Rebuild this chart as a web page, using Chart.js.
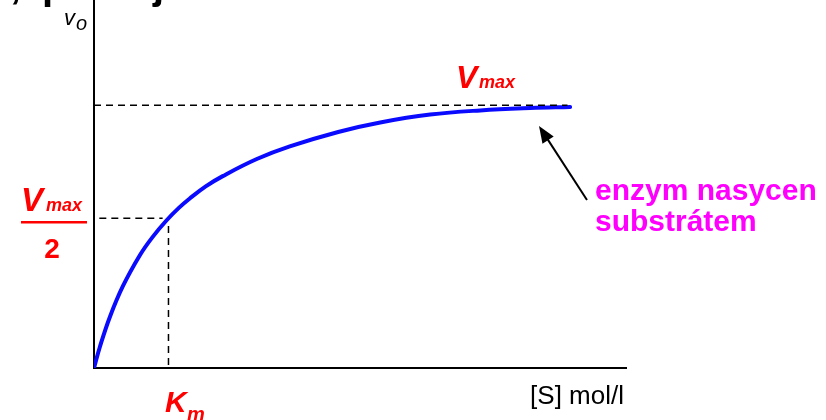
<!DOCTYPE html>
<html>
<head>
<meta charset="utf-8">
<script src="https://cdn.jsdelivr.net/npm/chart.js@4"></script>
<style>
html,body{margin:0;padding:0;background:#fff;}
#wrap{width:826px;height:420px;position:relative;}
</style>
</head>
<body>
<div id="wrap"><canvas id="c" width="826" height="420"></canvas></div>
<script>
// substrate concentration [S] and reaction velocity v0 (Vmax = 1)
const substrate = [0, 0.11, 0.30, 0.545, 0.865, 1.10, 1.37, 1.60, 1.80, 2.10, 2.42, 3.06, 3.68, 4.59, 5.38, 6.32, 7.26, 8.20, 8.95];
const velocity  = [0, 0.08, 0.195, 0.312, 0.430, 0.498, 0.563, 0.610, 0.645, 0.691, 0.730, 0.795, 0.843, 0.898, 0.934, 0.964, 0.980, 0.989, 0.993];
const vmax = 1.0;
const halfV = 0.57;
const km = 1.37;
const xMax = 10;
const yMax = 1.4;

const curve = substrate.map((x, i) => ({x: x, y: velocity[i]}));
const vmaxLine = [{x: 0, y: vmax}, {x: 8.9, y: vmax}];
const halfLine = [{x: 0.1, y: halfV}, {x: km - 0.08, y: halfV}];
const kmLine = [{x: km + 0.03, y: 0.54}, {x: km + 0.03, y: 0.01}];

const dashStyle = {borderColor: '#000', borderWidth: 1.5, borderDash: [7, 5], pointRadius: 0, fill: false, tension: 0};

const overlay = {
  id: 'overlay',
  afterDatasetsDraw(chart) {
    const ctx = chart.ctx;
    const xs = chart.scales.x, ys = chart.scales.y;
    ctx.save();
    // cropped title fragments at the very top
    ctx.fillStyle = '#000';
    ctx.font = 'bold 40px "Liberation Sans", Arial, sans-serif';
    ctx.textBaseline = 'alphabetic';
    ctx.textAlign = 'left';
    ctx.fillText(',', 10, -2);
    ctx.fillText('p', 42, -1);
    ctx.fillText('j', 153, -1);

    // v_o label
    ctx.font = 'italic 22px "Liberation Sans", Arial, sans-serif';
    ctx.fillText('v', 64, 25);
    ctx.font = 'italic 20px "Liberation Sans", Arial, sans-serif';
    ctx.fillText('o', 76, 30);

    // Vmax label
    const red = '#ff0000';
    ctx.fillStyle = red;
    const vx = 456, vy = ys.getPixelForValue(vmax) - 17;
    ctx.font = 'bold italic 32px "Liberation Sans", Arial, sans-serif';
    ctx.fillText('V', vx, vy);
    ctx.font = 'bold italic 18px "Liberation Sans", Arial, sans-serif';
    ctx.fillText('max', vx + 23, vy);

    // Vmax / 2 label
    ctx.font = 'bold italic 33px "Liberation Sans", Arial, sans-serif';
    ctx.fillText('V', 21, 211);
    ctx.font = 'bold italic 18px "Liberation Sans", Arial, sans-serif';
    ctx.fillText('max', 46, 211);
    ctx.fillRect(21, 221, 66, 2.5);
    ctx.font = 'bold 28px "Liberation Sans", Arial, sans-serif';
    ctx.textAlign = 'center';
    ctx.fillText('2', 52, 258);
    ctx.textAlign = 'left';

    // Km label
    const kx = xs.getPixelForValue(km) - 2;
    ctx.font = 'bold italic 30px "Liberation Sans", Arial, sans-serif';
    ctx.fillText('K', kx, 412);
    ctx.font = 'bold italic 20px "Liberation Sans", Arial, sans-serif';
    ctx.fillText('m', kx + 22, 421);

    // x-axis label
    ctx.fillStyle = '#000';
    ctx.font = '26px "Liberation Sans", Arial, sans-serif';
    ctx.textAlign = 'right';
    ctx.fillText('[S] mol/l', 624, 404);
    ctx.textAlign = 'left';

    // annotation text
    ctx.fillStyle = '#ff00ff';
    ctx.font = 'bold 30px "Liberation Sans", Arial, sans-serif';
    ctx.fillText('enzym nasycen', 595, 200);
    ctx.fillText('substrátem', 595, 231);

    // arrow
    const tx = 587, ty = 200, hx = 539, hy = 126;
    ctx.strokeStyle = '#000';
    ctx.lineWidth = 2;
    const ang = Math.atan2(hy - ty, hx - tx);
    ctx.beginPath();
    ctx.moveTo(tx, ty);
    ctx.lineTo(hx - 10 * Math.cos(ang), hy - 10 * Math.sin(ang));
    ctx.stroke();
    ctx.fillStyle = '#000';
    ctx.beginPath();
    ctx.moveTo(hx, hy);
    ctx.lineTo(hx - 18 * Math.cos(ang - 0.38), hy - 18 * Math.sin(ang - 0.38));
    ctx.lineTo(hx - 18 * Math.cos(ang + 0.38), hy - 18 * Math.sin(ang + 0.38));
    ctx.closePath();
    ctx.fill();
    ctx.restore();
  }
};

new Chart(document.getElementById('c'), {
  type: 'line',
  data: {
    datasets: [
      Object.assign({data: vmaxLine}, dashStyle),
      Object.assign({data: halfLine}, dashStyle),
      Object.assign({data: kmLine}, dashStyle),
      {data: curve, borderColor: '#0a0aff', borderWidth: 4, pointRadius: 0, fill: false, tension: 0.4, borderCapStyle: 'round'}
    ]
  },
  options: {
    responsive: false,
    animation: false,
    devicePixelRatio: 1,
    layout: {padding: {left: 94, right: 200, top: 0, bottom: 52}},
    plugins: {legend: {display: false}, tooltip: {enabled: false}, title: {display: false}},
    scales: {
      x: {
        type: 'linear', min: 0, max: xMax,
        grid: {display: true, drawOnChartArea: false, drawTicks: false},
        border: {display: true, color: '#000', width: 2},
        ticks: {display: false},
        afterFit(s) { s.height = 0; }
      },
      y: {
        type: 'linear', min: 0, max: yMax,
        grid: {display: true, drawOnChartArea: false, drawTicks: false},
        border: {display: true, color: '#000', width: 2},
        ticks: {display: false},
        afterFit(s) { s.width = 0; }
      }
    }
  },
  plugins: [overlay]
});
</script>
</body>
</html>
